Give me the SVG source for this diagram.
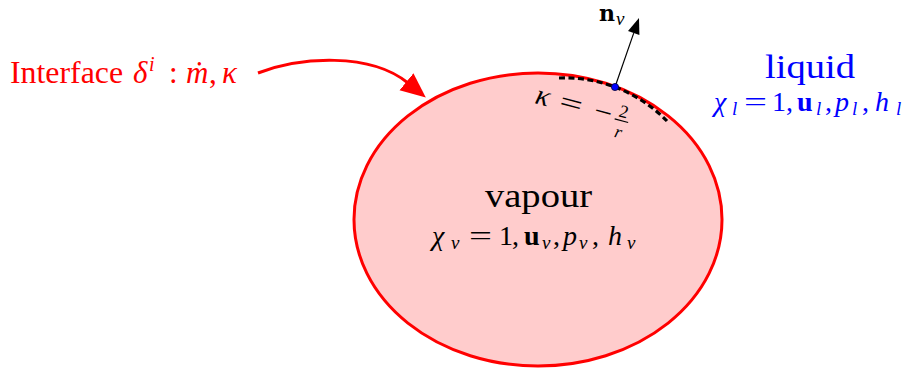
<svg xmlns="http://www.w3.org/2000/svg" width="914" height="372" viewBox="0 0 914 372">
<style>
text{font-family:"Liberation Serif","Times New Roman",serif}
.it{font-style:italic}
.bf{font-weight:bold}
.red{fill:#ff0000}
.blue{fill:#0000ff}
.blk{fill:#000000}
</style>
<defs>
<marker id="redhead" markerWidth="26" markerHeight="24" refX="2" refY="11" orient="auto" markerUnits="userSpaceOnUse">
<path d="M0,0 L25,11 L0,22 Z" fill="#ff0000"/>
</marker>
</defs>
<rect width="914" height="372" fill="#ffffff"/>

<g id="vapour">
<ellipse cx="538" cy="219.5" rx="184" ry="146.5" fill="#ffcccc" stroke="#ff0000" stroke-width="3"/>
<text x="485" y="207" font-size="33" textLength="107" lengthAdjust="spacingAndGlyphs" class="blk">vapour</text>
<text y="245" font-size="28" class="blk"><tspan x="432" class="it">χ</tspan><tspan x="451" dy="4" font-size="19" class="it">v</tspan><tspan x="469" dy="-4" textLength="23" lengthAdjust="spacingAndGlyphs">=</tspan><tspan x="499">1</tspan><tspan x="512">,</tspan><tspan x="524" class="bf">u</tspan><tspan x="542" dy="4" font-size="19" class="it">v</tspan><tspan x="553" dy="-4">,</tspan><tspan x="563" class="it">p</tspan><tspan x="579" dy="4" font-size="19" class="it">v</tspan><tspan x="592" dy="-4">,</tspan><tspan x="608" class="it">h</tspan><tspan x="627" dy="4" font-size="19" class="it">v</tspan></text>
</g>

<g id="liquid">
<text x="765" y="78" font-size="33" textLength="90" lengthAdjust="spacingAndGlyphs" class="blue">liquid</text>
<text y="111" font-size="28" class="blue"><tspan x="714" class="it">χ</tspan><tspan x="732" dy="4" font-size="19" class="it">l</tspan><tspan x="744" dy="-4" textLength="23" lengthAdjust="spacingAndGlyphs">=</tspan><tspan x="772">1</tspan><tspan x="786">,</tspan><tspan x="797" class="bf">u</tspan><tspan x="816" dy="4" font-size="19" class="it">l</tspan><tspan x="825" dy="-4">,</tspan><tspan x="835" class="it">p</tspan><tspan x="852" dy="4" font-size="19" class="it">l</tspan><tspan x="862" dy="-4">,</tspan><tspan x="875" class="it">h</tspan><tspan x="896" dy="4" font-size="19" class="it">l</tspan></text>
</g>

<g id="interface-label">
<text y="83" font-size="31" class="red"><tspan x="10" textLength="113" lengthAdjust="spacingAndGlyphs">Interface</tspan><tspan x="133" class="it">δ</tspan><tspan x="149" dy="-12" font-size="20" class="it">i</tspan><tspan x="169" dy="12">:</tspan><tspan x="186" class="it">ṁ</tspan><tspan x="209">,</tspan><tspan x="222" class="it">κ</tspan></text>
</g>

<g id="curvature-label" transform="translate(534,103) rotate(15)">
<text x="0" y="0" font-size="29" class="it blk">κ</text>
<text x="36" y="0" font-size="28" text-anchor="middle" textLength="23" lengthAdjust="spacingAndGlyphs" class="blk">=</text>
<text x="69.4" y="0" font-size="28" text-anchor="middle" textLength="18" lengthAdjust="spacingAndGlyphs" class="blk">−</text>
<text x="89" y="-9" font-size="18" text-anchor="middle" class="blk">2</text>
<line x1="82" y1="-5.5" x2="96" y2="-5.5" stroke="#000" stroke-width="1.2"/>
<text x="89" y="12" font-size="18" text-anchor="middle" class="it blk">r</text>
</g>

<g id="normal-label">
<text x="599" y="21" font-size="22" class="bf blk" style="font-family:'DejaVu Serif',serif">n</text>
<text x="616" y="25" font-size="19" class="it blk">v</text>
</g>

<g id="connectors">
<path d="M258,73 C300,57 370,52 408,83" fill="none" stroke="#ff0000" stroke-width="3" marker-end="url(#redhead)"/>
<path d="M559,78 A143,143 0 0 1 667,121" fill="none" stroke="#000" stroke-width="3.2" stroke-dasharray="6,3.5"/>
<line x1="615" y1="87" x2="633.7" y2="33.1" stroke="#000" stroke-width="1.2"/>
<polygon points="639,18 628,31.1 639.4,35.1" fill="#000"/>
<circle cx="615" cy="87" r="3.6" fill="#0000ff" stroke="#000033" stroke-width="0.8"/>
</g>
</svg>
